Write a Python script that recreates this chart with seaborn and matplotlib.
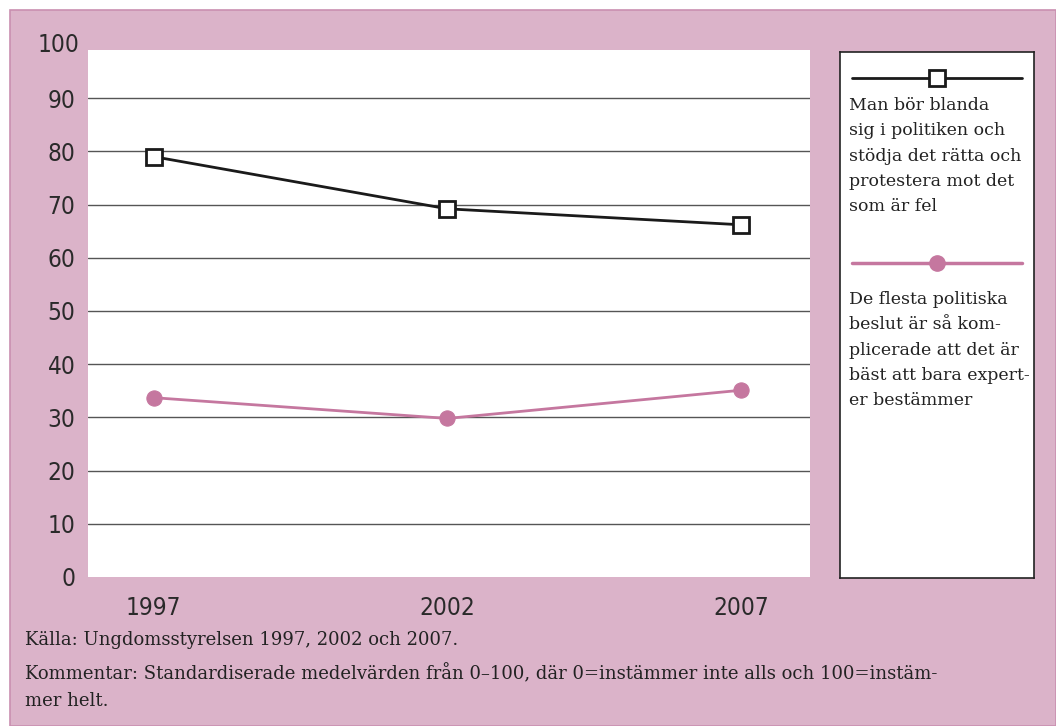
import numpy as np
import pandas as pd
import matplotlib.pyplot as plt
import matplotlib.patches as mpatches
import seaborn as sns

# podaci
years = ['1997', '2002', '2007']
blanda = [79.0, 69.2, 66.2]
experter = [33.7, 29.8, 35.1]
y_ticks = [0, 10, 20, 30, 40, 50, 60, 70, 80, 90]

label_blanda = 'Man bör blanda\nsig i politiken och\nstödja det rätta och\nprotestera mot det\nsom är fel'
label_experter = 'De flesta politiska\nbeslut är så kom-\nplicerade att det är\nbäst att bara expert-\ner bestämmer'
kalla = 'Källa: Ungdomsstyrelsen 1997, 2002 och 2007.'
kommentar = ('Kommentar: Standardiserade medelvärden från 0–100, där 0=instämmer inte alls och 100=instäm-\n'
             'mer helt.')

pink_bg = '#dbb3c9'
pink_line = '#c5779f'
serif = 'DejaVu Serif'
tick_size = 17.5

sns.set_style('white')
plt.rcParams['font.family'] = ['DejaVu Sans']

W, H = 1056, 726
fig = plt.figure(figsize=(W / 100, H / 100), dpi=100)
fig.patch.set_facecolor('white')

# roze okvir
fig.patches.append(mpatches.Rectangle((10 / W, 0), 1 - 10 / W, 1 - 10 / H, transform=fig.transFigure,
                                      facecolor=pink_bg, edgecolor='#c98fb0', linewidth=1.2, zorder=-5))

ax = fig.add_axes([88 / W, 1 - 577 / H, (810 - 88) / W, (577 - 50) / H])
ax.set_facecolor('white')

df = pd.DataFrame({'x': np.arange(len(years)), 'blanda': blanda, 'experter': experter})
sns.lineplot(data=df, x='x', y='blanda', ax=ax, color='#1a1a1a', linewidth=2, marker='s',
             markersize=11, markerfacecolor='white', markeredgecolor='#1a1a1a', markeredgewidth=2, zorder=3)
sns.lineplot(data=df, x='x', y='experter', ax=ax, color=pink_line, linewidth=2, marker='o',
             markersize=11, markerfacecolor=pink_line, markeredgecolor=pink_line, zorder=3)

ax.set_xlim(-0.224, 2.235)
ax.set_ylim(0, 99.05)
ax.set_yticks(y_ticks)
ax.set_xticks(range(len(years)))
ax.set_xticklabels(years)
ax.set_xlabel('')
ax.set_ylabel('')
for s in ax.spines.values():
    s.set_visible(False)
for y in y_ticks[1:]:
    ax.axhline(y, color='#555555', linewidth=1, zorder=1)
ax.tick_params(axis='y', length=0, pad=9, labelsize=tick_size, labelcolor='#2a2a2a')
ax.tick_params(axis='x', length=0, pad=14, labelsize=tick_size, labelcolor='#2a2a2a')
for t in ax.get_yticklabels() + ax.get_xticklabels():
    t.set_fontstretch('condensed')
ax.text(-0.0125, 100, '100', transform=ax.get_yaxis_transform(), ha='right', va='center',
        fontsize=tick_size, color='#2a2a2a', fontstretch='condensed', clip_on=False)

# legenda
lax = fig.add_axes([840 / W, 1 - 578 / H, (1034 - 840) / W, (578 - 52) / H])
lax.set_xlim(840, 1034)
lax.set_ylim(578, 52)
lax.set_xticks([])
lax.set_yticks([])
lax.set_facecolor('white')
for s in lax.spines.values():
    s.set_color('#222222')
    s.set_linewidth(1.2)
lax.plot([852, 1022], [78, 78], color='#1a1a1a', linewidth=2)
lax.plot([937], [78], marker='s', markersize=11, markerfacecolor='white',
         markeredgecolor='#1a1a1a', markeredgewidth=2)
lax.plot([852, 1022], [263, 263], color=pink_line, linewidth=2.5)
lax.plot([937], [263], marker='o', markersize=11, color=pink_line)
lax.text(849, 97, label_blanda, ha='left', va='top', fontsize=12.5, family=serif,
         color='#222222', linespacing=1.64)
lax.text(849, 291, label_experter, ha='left', va='top', fontsize=12.5, family=serif,
         color='#222222', linespacing=1.64)

# fusnota
fig.text(25 / W, 1 - 640 / H, kalla, ha='left', va='center', fontsize=13,
         family=serif, color='#222222')
fig.text(25 / W, 1 - 664 / H, kommentar, ha='left', va='top', fontsize=13,
         family=serif, color='#222222', linespacing=1.6)

fig.savefig('out.png', dpi=100)
